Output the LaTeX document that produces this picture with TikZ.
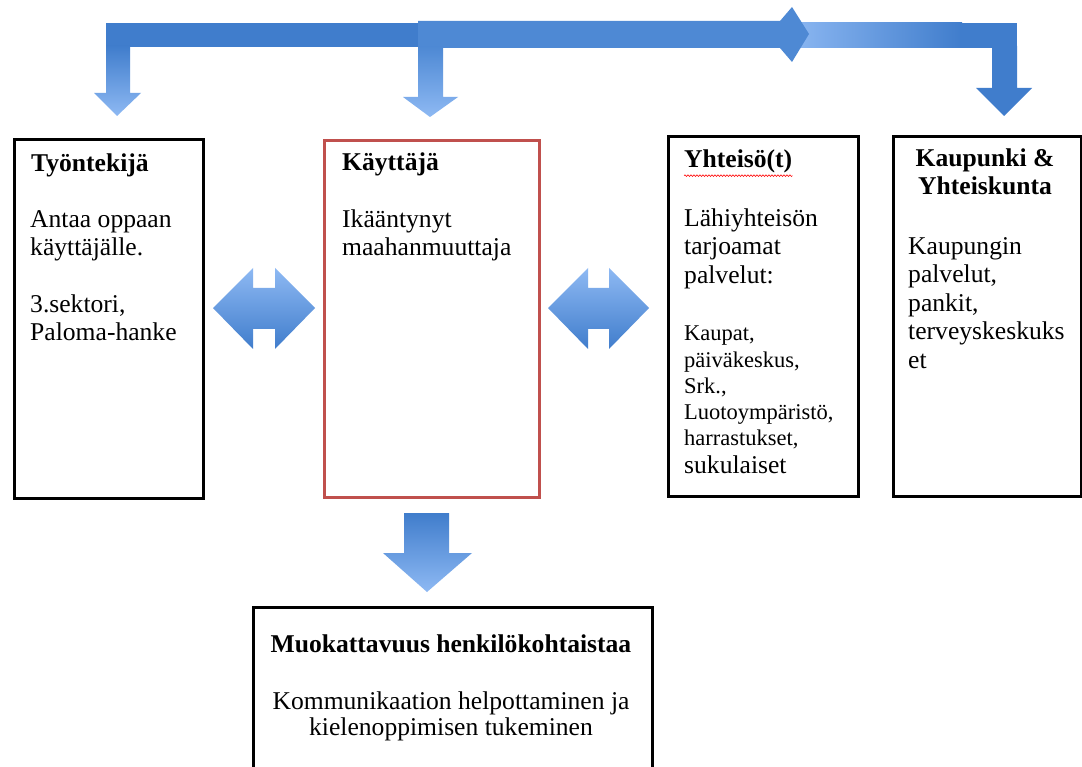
\documentclass[tikz,border=0pt]{standalone}
\usepackage{fontspec}
\setmainfont{Liberation Serif}
\usetikzlibrary{decorations.pathmorphing}
\definecolor{adark}{RGB}{64,125,204}
\definecolor{amid}{RGB}{78,137,212}
\definecolor{alight}{RGB}{142,185,243}
\definecolor{boxred}{RGB}{192,80,77}
\begin{document}
\begin{tikzpicture}[x=1pt,y=-1pt,
  bbox/.style={draw=black, line width=3pt, rectangle, anchor=north west, inner sep=0pt},
  rbox/.style={draw=boxred, line width=3pt, rectangle, anchor=north west, inner sep=0pt},
  txt/.style={inner sep=0pt, anchor=base west, font=\fontsize{25.6}{28}\selectfont},
  ttl/.style={inner sep=0pt, anchor=base west, font=\fontsize{25.6}{28}\selectfont\bfseries},
  sml/.style={inner sep=0pt, anchor=base west, font=\fontsize{22.5}{26}\selectfont},
  ctr/.style={anchor=base}]
\useasboundingbox (0,0) rectangle (1082,767);
\fill[white] (0,0) rectangle (1082,767);

% ---- top bent arrows ----
% right arrow (back)
\shade[left color=alight, right color=adark] (785,23) rectangle (962,48);
\fill[adark] (960,23) rectangle (1017,48);
\fill[adark] (992,46) -- (1017,46) -- (1017,88) -- (1032,88) -- (1004,116) -- (976,88) -- (992,88) -- cycle;
% left arrow
\fill[adark] (106,23) rectangle (470,47);
\shade[top color=adark, bottom color=alight] (106,46) -- (130,46) -- (130,93) -- (141,93) -- (117,116) -- (94,93) -- (106,93) -- cycle;
% middle arrow (front)
\fill[amid] (418,21) -- (780,21) -- (792,7) -- (809,34) -- (792,62) -- (780,48) -- (418,48) -- cycle;
\shade[top color=amid, bottom color=alight] (418,47) -- (443,47) -- (443,97) -- (458,97) -- (430,117) -- (403,97) -- (418,97) -- cycle;

% ---- double arrows ----
\shade[top color=alight, bottom color=adark] (213,308) -- (253,268) -- (253,288) -- (275,288) -- (275,268) -- (315,308) -- (275,349) -- (275,329) -- (253,329) -- (253,349) -- cycle;
\shade[top color=alight, bottom color=adark] (548,308) -- (588,268) -- (588,288) -- (609,288) -- (609,268) -- (649,308) -- (609,349) -- (609,329) -- (588,329) -- (588,349) -- cycle;

% ---- down arrow ----
\shade[top color=adark, bottom color=alight] (404,513) -- (449,513) -- (449,553) -- (472,553) -- (427,592) -- (383,553) -- (404,553) -- cycle;

% ---- boxes ----
\node[bbox, minimum width=189.5pt, minimum height=358.5pt] (b1) at (12.5,138.5) {};
\node[rbox, minimum width=215pt, minimum height=357pt] (b2) at (323,139) {};
\node[bbox, minimum width=190pt, minimum height=360pt] (b3) at (667,135) {};
\node[bbox, minimum width=188pt, minimum height=360pt] (b4) at (892,135) {};
\node[bbox, minimum width=399pt, minimum height=194pt] (b5) at (252,606) {};

% ---- box 1 ----
\node[ttl] (t1) at (31,172) {Työntekijä};
\node[txt] (t1a) at (30,228) {Antaa oppaan};
\node[txt] (t1b) at (30,256) {käyttäjälle.};
\node[txt] (t1c) at (30,313) {3.sektori,};
\node[txt] (t1d) at (30,341) {Paloma-hanke};

% ---- box 2 ----
\node[ttl] (t2) at (342,171) {Käyttäjä};
\node[txt] (t2a) at (342,228) {Ikääntynyt};
\node[txt] (t2b) at (342,256) {maahanmuuttaja};

% ---- box 3 ----
\node[ttl] (t3) at (684,168) {Yhteisö(t)};
\draw[red, line width=0.6pt, decorate, decoration={snake, amplitude=0.8pt, segment length=3pt}] (t3.south west) ++(0,2) coordinate (w1) -- (t3.south east |- w1) coordinate (w2);
\node[txt] (t3a) at (684,227) {Lähiyhteisön};
\node[txt] (t3b) at (684,255) {tarjoamat};
\node[txt] (t3c) at (684,284) {palvelut:};
\node[sml] (t3d) at (684,341) {Kaupat,};
\node[sml] (t3e) at (684,367) {päiväkeskus,};
\node[sml] (t3f) at (684,393) {Srk.,};
\node[sml] (t3g) at (684,419) {Luotoympäristö,};
\node[sml] (t3h) at (684,445) {harrastukset,};
\node[txt] (t3i) at (684,473) {sukulaiset};

% ---- box 4 ----
\node[ttl, ctr] (t4) at (985,167) {Kaupunki \&};
\node[ttl, ctr] (t4x) at (985,195) {Yhteiskunta};
\node[txt] (t4a) at (908,255) {Kaupungin};
\node[txt] (t4b) at (908,283) {palvelut,};
\node[txt] (t4c) at (908,312) {pankit,};
\node[txt] (t4d) at (908,340) {terveyskeskuks};
\node[txt] (t4e) at (908,368) {et};

% ---- bottom box ----
\node[ttl, ctr] (t5) at (451,652) {Muokattavuus henkilökohtaistaa};
\node[txt, ctr] (t5a) at (451,709) {Kommunikaation helpottaminen ja};
\node[txt, ctr] (t5b) at (451,735) {kielenoppimisen tukeminen};
\end{tikzpicture}
\end{document}
